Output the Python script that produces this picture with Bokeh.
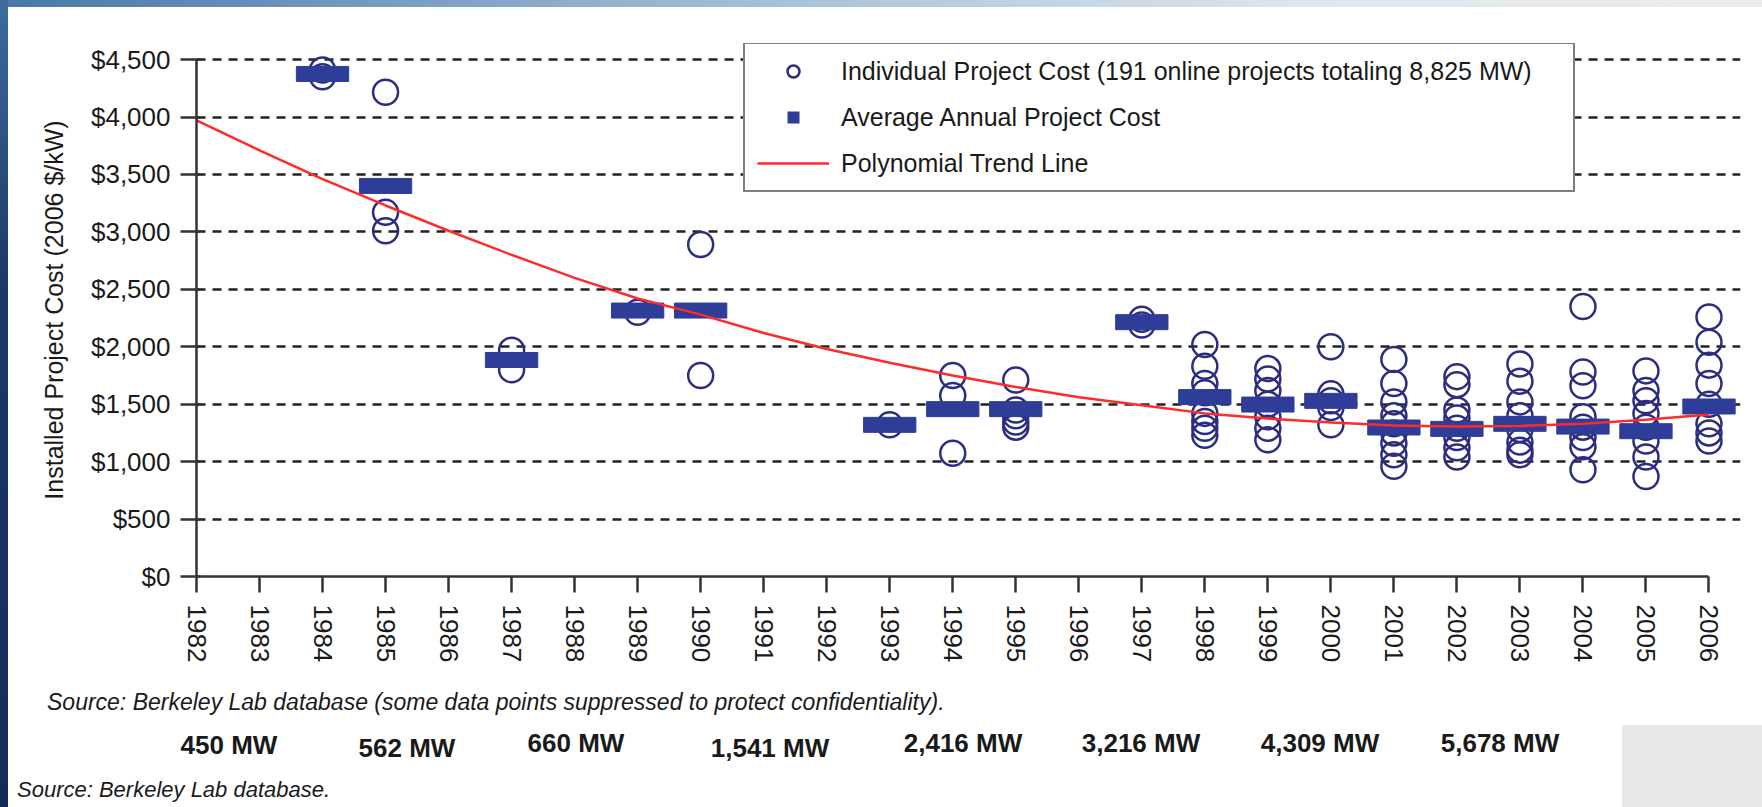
from bokeh.plotting import figure
from bokeh.models import (FixedTicker, NumeralTickFormatter, Legend, LegendItem,
                          Range1d, Div)
from bokeh.layouts import row, column
from bokeh.embed import file_html
from bokeh.resources import INLINE

# ---------------- data ----------------
axis_years = list(range(1982, 2007))
cost_ticks = [0, 500, 1000, 1500, 2000, 2500, 3000, 3500, 4000, 4500]

project_year = ([1984] * 2 + [1985] * 3 + [1987] * 2 + [1989] + [1990] * 2 + [1993] +
                [1994] * 3 + [1995] * 5 + [1997] * 2 + [1998] * 8 + [1999] * 7 +
                [2000] * 5 + [2001] * 9 + [2002] * 8 + [2003] * 8 + [2004] * 8 +
                [2005] * 8 + [2006] * 8)
project_cost = [4410, 4350,
                4215, 3170, 3010,
                1970, 1800,
                2300,
                2890, 1750,
                1320,
                1750, 1575, 1073,
                1710, 1450, 1400, 1345, 1300,
                2240, 2190,
                2020, 1830, 1680, 1600, 1420, 1350, 1290, 1230,
                1810, 1720, 1620, 1500, 1390, 1290, 1190,
                2000, 1590, 1530, 1470, 1320,
                1890, 1680, 1520, 1400, 1330, 1250, 1160, 1060, 960,
                1740, 1670, 1450, 1380, 1290, 1210, 1120, 1040,
                1850, 1700, 1520, 1400, 1280, 1170, 1100, 1060,
                2350, 1780, 1660, 1390, 1300, 1210, 1130, 930,
                1790, 1620, 1530, 1420, 1300, 1180, 1040, 870,
                2260, 2040, 1840, 1680, 1500, 1330, 1250, 1180]

avg_year = [1984, 1985, 1987, 1989, 1990, 1993, 1994, 1995, 1997, 1998, 1999,
            2000, 2001, 2002, 2003, 2004, 2005, 2006]
avg_cost = [4375, 3400, 1885, 2315, 2315, 1320, 1457, 1457, 2214, 1562, 1497,
            1529, 1297, 1285, 1329, 1305, 1265, 1480]

trend_year = list(range(1982, 2007))
trend_cost = [3970, 3710, 3460, 3230, 3010, 2800, 2600, 2420, 2280, 2120, 1980,
              1860, 1750, 1650, 1560, 1490, 1420, 1375, 1340, 1315, 1305, 1310,
              1330, 1365, 1410]

legend_labels = ["Individual Project Cost (191 online projects totaling 8,825 MW)",
                 "Average Annual Project Cost",
                 "Polynomial Trend Line"]
source_note = "Source: Berkeley Lab database (some data points suppressed to protect confidentiality)."
mw_labels = ["450 MW", "562 MW", "660 MW", "1,541 MW", "2,416 MW", "3,216 MW", "4,309 MW", "5,678 MW"]
footer = "Source: Berkeley Lab database."

FONT = "Liberation Sans"
NAVY = "#2B2E80"
BAR = "#2E3D98"
RED = "#FF2A2A"
INK = "#1a1a1a"

# ---------------- main chart ----------------
p = figure(frame_width=1544, frame_height=533,
           min_border_left=188, min_border_right=22, min_border_top=36, min_border_bottom=104,
           x_range=Range1d(1982, 2006.5), y_range=Range1d(0, 4640),
           output_backend="svg", toolbar_location=None,
           background_fill_color="white", border_fill_color="white", outline_line_color=None)

r_circ = p.scatter(project_year, project_cost, marker="circle", size=25,
                   fill_color=None, line_color=NAVY, line_width=2.5)
r_bar = p.rect(avg_year, avg_cost, width=0.83, height=15, height_units="screen",
               fill_color=BAR, line_color=BAR)
# zero-size markers: only used to draw the small square in the legend
r_sq = p.scatter(avg_year, avg_cost, marker="square", size=0, fill_color=BAR, line_color=None)
r_line = p.line(trend_year, trend_cost, line_color=RED, line_width=2.5)

xa = p.xaxis[0]
xa.ticker = FixedTicker(ticks=axis_years)
xa.bounds = (1982, 2006)
xa.major_label_orientation = "vertical"
xa.major_label_text_font = FONT
xa.major_label_text_font_size = "26px"
xa.major_label_text_color = INK
xa.major_label_standoff = 12
xa.major_tick_out = 16
xa.major_tick_in = 0
xa.minor_tick_line_color = None
xa.axis_line_width = 2.5
xa.axis_line_color = "#333333"
xa.major_tick_line_width = 2.5
xa.major_tick_line_color = "#333333"

ya = p.yaxis[0]
ya.ticker = FixedTicker(ticks=cost_ticks)
ya.formatter = NumeralTickFormatter(format="$0,0")
ya.bounds = (0, 4500)
ya.major_label_text_font = FONT
ya.major_label_text_font_size = "26px"
ya.major_label_text_color = INK
ya.major_label_standoff = 10
ya.major_tick_out = 16
ya.major_tick_in = 4
ya.minor_tick_line_color = None
ya.axis_line_width = 2.5
ya.axis_line_color = "#333333"
ya.major_tick_line_width = 2.5
ya.major_tick_line_color = "#333333"
ya.axis_label = "Installed Project Cost (2006 $/kW)"
ya.axis_label_text_font = FONT
ya.axis_label_text_font_style = "normal"
ya.axis_label_text_font_size = "25px"
ya.axis_label_text_color = INK
ya.axis_label_standoff = 20

p.xgrid.grid_line_color = None
p.ygrid.grid_line_color = "#222222"
p.ygrid.grid_line_dash = "9 7"
p.ygrid.grid_line_width = 2.5

legend = Legend(items=[LegendItem(label=legend_labels[0], renderers=[r_circ]),
                       LegendItem(label=legend_labels[1], renderers=[r_sq]),
                       LegendItem(label=legend_labels[2], renderers=[r_line])],
                location=(547, 384), padding=12, margin=0, spacing=16,
                glyph_width=72, glyph_height=30, label_height=30, label_width=720,
                label_standoff=12, border_line_color="black", border_line_width=2,
                background_fill_color="white", background_fill_alpha=1.0,
                label_text_font=FONT, label_text_font_size="25px",
                label_text_color=INK)
p.add_layout(legend)

# ---------------- notes below the chart (positions relative to the notes block) ----------------
def span(text, left, top, size, style="normal", weight="normal", center=False):
    tx = "-50%" if center else "0"
    return (f'<span style="position:absolute;left:{left}px;top:{top}px;'
            f'transform:translate({tx},-50%);font-family:\'{FONT}\',Arial,sans-serif;'
            f'font-size:{size}px;font-style:{style};font-weight:{weight};color:{INK};'
            f'white-space:nowrap;line-height:1;">{text}</span>')

mw_x = [221, 399, 568, 762, 955, 1133, 1312, 1492]
mw_y = [65, 68, 63, 68, 63, 63, 63, 63]
parts = ['<div style="position:relative;width:1754px;height:127px;overflow:hidden;background:white;">',
         '<div style="position:absolute;left:1614px;top:45px;width:140px;height:82px;background:#E6E8EA;"></div>',
         span(source_note, 39, 22, 23, style="italic")]
for t, xx, yy in zip(mw_labels, mw_x, mw_y):
    parts.append(span(t, xx, yy, 26, weight="bold", center=True))
parts.append(span(footer, 9, 110, 22, style="italic"))
parts.append('</div>')
notes = Div(text="".join(parts), width=1754, height=127, margin=0)

# ---------------- blue frame of the slide ----------------
left_strip = Div(text="", width=8, height=807, margin=0,
                 styles={"background": "linear-gradient(to bottom, #3d6c9d, #1c3868 35%, #152b56)"})
top_strip = Div(text="", width=1754, height=7, margin=0,
                styles={"background": "linear-gradient(to right, #4a78a6, #a9c3d8 45%, #dfe7ec 75%, #ececec)"})

layout = row(left_strip, column(top_strip, p, notes, spacing=0), spacing=0)

open("out.html", "w").write(file_html(layout, INLINE))
